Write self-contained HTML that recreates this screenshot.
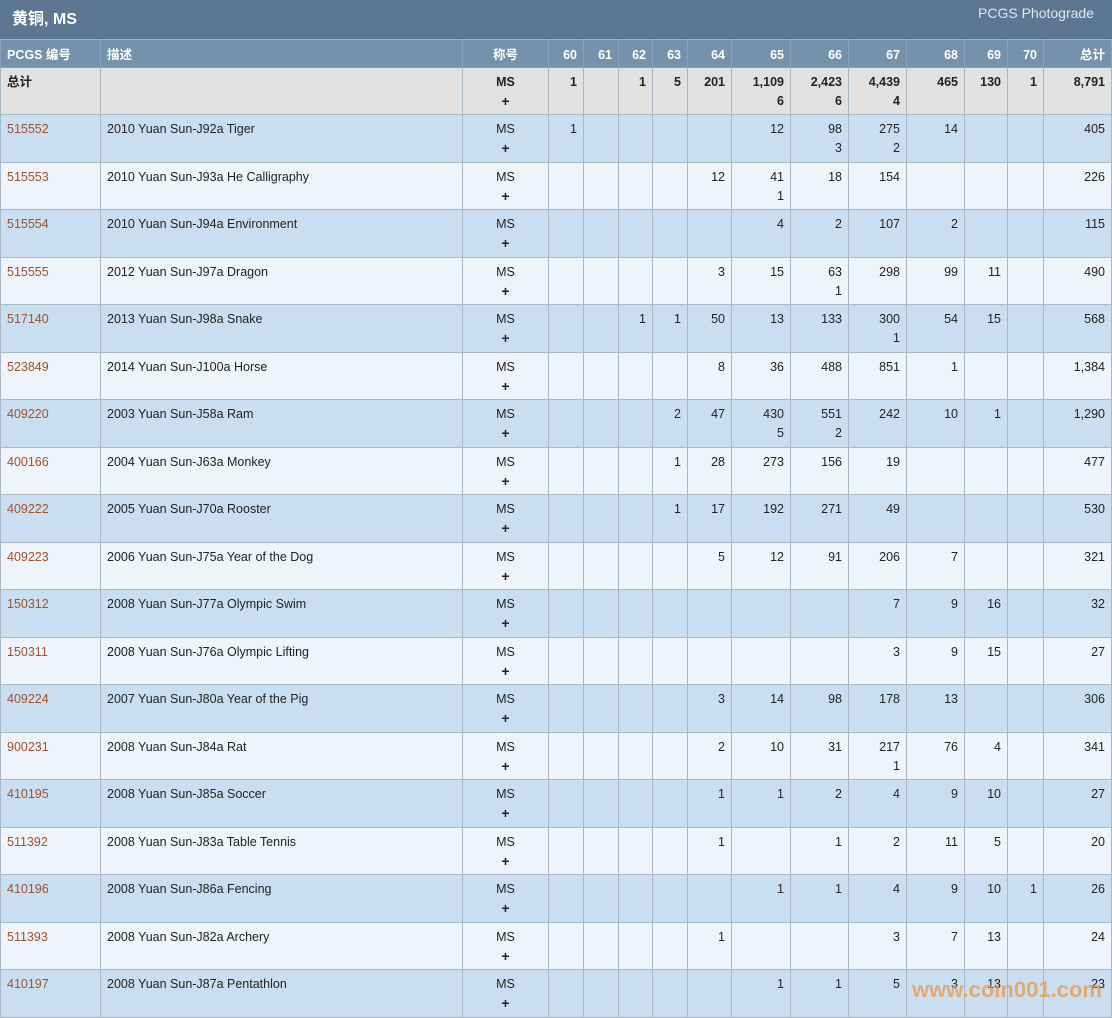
<!DOCTYPE html>
<html><head><meta charset="utf-8"><style>
body{margin:0;width:1112px;height:1018px;overflow:hidden;background:#fff;font-family:"Liberation Sans","Noto Sans CJK SC",sans-serif;font-size:12.5px;color:#222}
.title{height:39px;background:#5d7792;color:#fff;position:relative}
.title .l{position:absolute;left:12px;top:5px;font-size:16px;font-weight:bold}
.title .r{position:absolute;right:18px;top:5px;font-size:14px;color:#dfe7ef}
table{border-collapse:collapse;table-layout:fixed;width:1111px}
td,th{border:1px solid #a9b8c7;padding:5px 6px 0 6px;vertical-align:top;line-height:19px;text-align:right;overflow:hidden;white-space:nowrap}
th{background:#7591ab;color:#fff;height:21px;padding-top:6px;font-weight:bold;border-color:#8aa2b9;border-top:1px solid #9cb2c6}
th.a,td.a{text-align:left}
td.c,th.c{text-align:center}
td.c b{font-size:14px}
tr.t td{background:#e1e1e1;font-weight:bold;height:41px}
tr td{height:41.5px}
tr.b td{background:#c9dff1}
tr.w td{background:#eef4fa}
td.a.id{color:#a0522d}
.wm{position:absolute;left:912px;top:977px;font-size:22px;font-weight:bold;color:rgba(236,150,70,.75)}
</style></head><body>
<div class="title"><span class="l">黄铜, MS</span><span class="r">PCGS Photograde</span></div>
<table>
<colgroup><col style="width:100px"><col style="width:362px"><col style="width:86px"><col style="width:35px"><col style="width:35px"><col style="width:34px"><col style="width:35px"><col style="width:44px"><col style="width:59px"><col style="width:58px"><col style="width:58px"><col style="width:58px"><col style="width:43px"><col style="width:36px"><col style="width:68px"></colgroup>
<tr><th class="a">PCGS 编号</th><th class="a">描述</th><th class="c">称号</th><th>60</th><th>61</th><th>62</th><th>63</th><th>64</th><th>65</th><th>66</th><th>67</th><th>68</th><th>69</th><th>70</th><th>总计</th></tr>
<tr class="t"><td class="a">总计</td><td></td><td class="c">MS<br><b>+</b></td><td>1</td><td></td><td>1</td><td>5</td><td>201</td><td>1,109<br>6</td><td>2,423<br>6</td><td>4,439<br>4</td><td>465</td><td>130</td><td>1</td><td>8,791</td></tr>
<tr class="b"><td class="a id">515552</td><td class="a">2010 Yuan Sun-J92a Tiger</td><td class="c">MS<br><b>+</b></td><td>1</td><td></td><td></td><td></td><td></td><td>12</td><td>98<br>3</td><td>275<br>2</td><td>14</td><td></td><td></td><td>405</td></tr>
<tr class="w"><td class="a id">515553</td><td class="a">2010 Yuan Sun-J93a He Calligraphy</td><td class="c">MS<br><b>+</b></td><td></td><td></td><td></td><td></td><td>12</td><td>41<br>1</td><td>18</td><td>154</td><td></td><td></td><td></td><td>226</td></tr>
<tr class="b"><td class="a id">515554</td><td class="a">2010 Yuan Sun-J94a Environment</td><td class="c">MS<br><b>+</b></td><td></td><td></td><td></td><td></td><td></td><td>4</td><td>2</td><td>107</td><td>2</td><td></td><td></td><td>115</td></tr>
<tr class="w"><td class="a id">515555</td><td class="a">2012 Yuan Sun-J97a Dragon</td><td class="c">MS<br><b>+</b></td><td></td><td></td><td></td><td></td><td>3</td><td>15</td><td>63<br>1</td><td>298</td><td>99</td><td>11</td><td></td><td>490</td></tr>
<tr class="b"><td class="a id">517140</td><td class="a">2013 Yuan Sun-J98a Snake</td><td class="c">MS<br><b>+</b></td><td></td><td></td><td>1</td><td>1</td><td>50</td><td>13</td><td>133</td><td>300<br>1</td><td>54</td><td>15</td><td></td><td>568</td></tr>
<tr class="w"><td class="a id">523849</td><td class="a">2014 Yuan Sun-J100a Horse</td><td class="c">MS<br><b>+</b></td><td></td><td></td><td></td><td></td><td>8</td><td>36</td><td>488</td><td>851</td><td>1</td><td></td><td></td><td>1,384</td></tr>
<tr class="b"><td class="a id">409220</td><td class="a">2003 Yuan Sun-J58a Ram</td><td class="c">MS<br><b>+</b></td><td></td><td></td><td></td><td>2</td><td>47</td><td>430<br>5</td><td>551<br>2</td><td>242</td><td>10</td><td>1</td><td></td><td>1,290</td></tr>
<tr class="w"><td class="a id">400166</td><td class="a">2004 Yuan Sun-J63a Monkey</td><td class="c">MS<br><b>+</b></td><td></td><td></td><td></td><td>1</td><td>28</td><td>273</td><td>156</td><td>19</td><td></td><td></td><td></td><td>477</td></tr>
<tr class="b"><td class="a id">409222</td><td class="a">2005 Yuan Sun-J70a Rooster</td><td class="c">MS<br><b>+</b></td><td></td><td></td><td></td><td>1</td><td>17</td><td>192</td><td>271</td><td>49</td><td></td><td></td><td></td><td>530</td></tr>
<tr class="w"><td class="a id">409223</td><td class="a">2006 Yuan Sun-J75a Year of the Dog</td><td class="c">MS<br><b>+</b></td><td></td><td></td><td></td><td></td><td>5</td><td>12</td><td>91</td><td>206</td><td>7</td><td></td><td></td><td>321</td></tr>
<tr class="b"><td class="a id">150312</td><td class="a">2008 Yuan Sun-J77a Olympic Swim</td><td class="c">MS<br><b>+</b></td><td></td><td></td><td></td><td></td><td></td><td></td><td></td><td>7</td><td>9</td><td>16</td><td></td><td>32</td></tr>
<tr class="w"><td class="a id">150311</td><td class="a">2008 Yuan Sun-J76a Olympic Lifting</td><td class="c">MS<br><b>+</b></td><td></td><td></td><td></td><td></td><td></td><td></td><td></td><td>3</td><td>9</td><td>15</td><td></td><td>27</td></tr>
<tr class="b"><td class="a id">409224</td><td class="a">2007 Yuan Sun-J80a Year of the Pig</td><td class="c">MS<br><b>+</b></td><td></td><td></td><td></td><td></td><td>3</td><td>14</td><td>98</td><td>178</td><td>13</td><td></td><td></td><td>306</td></tr>
<tr class="w"><td class="a id">900231</td><td class="a">2008 Yuan Sun-J84a Rat</td><td class="c">MS<br><b>+</b></td><td></td><td></td><td></td><td></td><td>2</td><td>10</td><td>31</td><td>217<br>1</td><td>76</td><td>4</td><td></td><td>341</td></tr>
<tr class="b"><td class="a id">410195</td><td class="a">2008 Yuan Sun-J85a Soccer</td><td class="c">MS<br><b>+</b></td><td></td><td></td><td></td><td></td><td>1</td><td>1</td><td>2</td><td>4</td><td>9</td><td>10</td><td></td><td>27</td></tr>
<tr class="w"><td class="a id">511392</td><td class="a">2008 Yuan Sun-J83a Table Tennis</td><td class="c">MS<br><b>+</b></td><td></td><td></td><td></td><td></td><td>1</td><td></td><td>1</td><td>2</td><td>11</td><td>5</td><td></td><td>20</td></tr>
<tr class="b"><td class="a id">410196</td><td class="a">2008 Yuan Sun-J86a Fencing</td><td class="c">MS<br><b>+</b></td><td></td><td></td><td></td><td></td><td></td><td>1</td><td>1</td><td>4</td><td>9</td><td>10</td><td>1</td><td>26</td></tr>
<tr class="w"><td class="a id">511393</td><td class="a">2008 Yuan Sun-J82a Archery</td><td class="c">MS<br><b>+</b></td><td></td><td></td><td></td><td></td><td>1</td><td></td><td></td><td>3</td><td>7</td><td>13</td><td></td><td>24</td></tr>
<tr class="b"><td class="a id">410197</td><td class="a">2008 Yuan Sun-J87a Pentathlon</td><td class="c">MS<br><b>+</b></td><td></td><td></td><td></td><td></td><td></td><td>1</td><td>1</td><td>5</td><td>3</td><td>13</td><td></td><td>23</td></tr>
</table>
<div class="wm">www.coin001.com</div>
</body></html>
